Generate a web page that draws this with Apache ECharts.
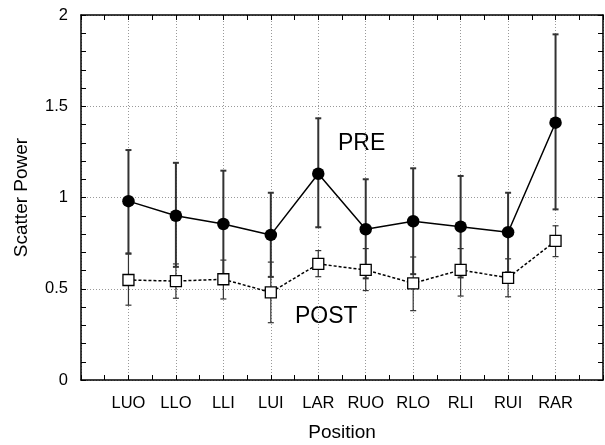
<!DOCTYPE html>
<html>
<head>
<meta charset="utf-8">
<script src="https://cdn.jsdelivr.net/npm/echarts@6/dist/echarts.min.js"></script>
<style>html,body{margin:0;padding:0;background:#fff}#c{width:605px;height:445px}</style>
</head>
<body>
<div id="c"></div>
<script>
var categories = ['LUO','LLO','LLI','LUI','LAR','RUO','RLO','RLI','RUI','RAR'];
var preMean  = [0.98, 0.90, 0.855, 0.795, 1.13, 0.826, 0.87, 0.84, 0.81, 1.41];
var preHigh  = [1.26, 1.19, 1.147, 1.026, 1.434, 1.10, 1.16, 1.118, 1.026, 1.894];
var preLow   = [0.694, 0.62, 0.56, 0.565, 0.837, 0.557, 0.58, 0.562, 0.59, 0.935];
var postMean = [0.548, 0.542, 0.552, 0.48, 0.636, 0.603, 0.53, 0.603, 0.56, 0.762];
var postHigh = [0.69, 0.636, 0.657, 0.646, 0.709, 0.72, 0.674, 0.72, 0.664, 0.845];
var postLow  = [0.41, 0.448, 0.444, 0.314, 0.566, 0.49, 0.38, 0.46, 0.456, 0.676];
var yTicks = [0, 0.5, 1, 1.5, 2];

var FONT = '"Liberation Sans", Arial, sans-serif';

function pairs(arr){ return arr.map(function(v,i){ return [i, v]; }); }
function errData(lo, hi){ return lo.map(function(v,i){ return [i, v, hi[i]]; }); }

function errRender(color, width){
  return function(params, api){
    var x = api.value(0);
    var p1 = api.coord([x, api.value(1)]);
    var p2 = api.coord([x, api.value(2)]);
    var w = 3;
    var st = {stroke: color, lineWidth: width};
    return {type:'group', children:[
      {type:'line', shape:{x1:p1[0], y1:p1[1], x2:p2[0], y2:p2[1]}, style:st},
      {type:'line', shape:{x1:p1[0]-w, y1:p1[1], x2:p1[0]+w, y2:p1[1]}, style:st},
      {type:'line', shape:{x1:p2[0]-w, y1:p2[1], x2:p2[0]+w, y2:p2[1]}, style:st}
    ]};
  };
}

var gridLine = {show:true, lineStyle:{color:'#999', width:1, type:[1,2]}};
var axLine = {show:true, onZero:false, lineStyle:{color:'#000', width:1.5}};
var tick = {show:true, inside:true, length:5, lineStyle:{color:'#000'}};
var minor = function(n){ return {show:true, splitNumber:n, length:5, lineStyle:{color:'#000'}}; };

var chart = echarts.init(document.getElementById('c'), null, {renderer:'canvas'});
chart.setOption({
  animation:false,
  backgroundColor:'#fff',
  grid:{left:81, right:2, top:15, bottom:65, containLabel:false, outerBoundsMode:'none'},
  xAxis:[{
    type:'value', min:-1, max:10, interval:1,
    axisLine:axLine, axisTick:tick, minorTick:minor(2),
    splitLine:gridLine,
    axisLabel:{color:'#000', fontFamily:FONT, fontSize:16.5, margin:15,
      formatter:function(v){ return (v>=0 && v<categories.length) ? categories[v] : ''; }},
    name:'Position', nameLocation:'middle', nameGap:43,
    nameTextStyle:{color:'#000', fontFamily:FONT, fontSize:19}
  },{
    type:'value', min:-1, max:10, interval:1, position:'top',
    axisLine:axLine, axisTick:tick, minorTick:minor(2),
    splitLine:{show:false}, axisLabel:{show:false}
  }],
  yAxis:[{
    type:'value', min:0, max:2, interval:0.5,
    axisLine:axLine, axisTick:tick, minorTick:minor(5),
    splitLine:gridLine,
    axisLabel:{color:'#000', fontFamily:FONT, fontSize:16.5, margin:13,
      formatter:function(v){ return yTicks.indexOf(v)>=0 ? String(v) : ''; }},
    name:'Scatter Power', nameLocation:'middle', nameGap:50,
    nameTextStyle:{color:'#000', fontFamily:FONT, fontSize:19}
  },{
    type:'value', min:0, max:2, interval:0.5, position:'right',
    axisLine:axLine, axisTick:tick, minorTick:minor(5),
    splitLine:{show:false}, axisLabel:{show:false}
  }],
  graphic:[
    {type:'text', left:338, top:132, style:{text:'PRE', fill:'#000', font:'23px ' + FONT}},
    {type:'text', left:295, top:305, style:{text:'POST', fill:'#000', font:'23px ' + FONT}}
  ],
  series:[
    {type:'custom', renderItem:errRender('#333', 2), data:errData(preLow, preHigh), z:2, encode:{x:0, y:[1,2]}},
    {type:'custom', renderItem:errRender('#333', 1.2), data:errData(postLow, postHigh), z:2, encode:{x:0, y:[1,2]}},
    {type:'line', data:pairs(preMean), symbol:'circle', symbolSize:12.5,
      lineStyle:{color:'#000', width:1.5}, itemStyle:{color:'#000'}, z:5},
    {type:'line', data:pairs(postMean), symbol:'rect', symbolSize:11,
      lineStyle:{color:'#000', width:1.5, type:[3,2]},
      itemStyle:{color:'#fff', borderColor:'#000', borderWidth:1.3}, z:6}
  ]
});
</script>
</body>
</html>
